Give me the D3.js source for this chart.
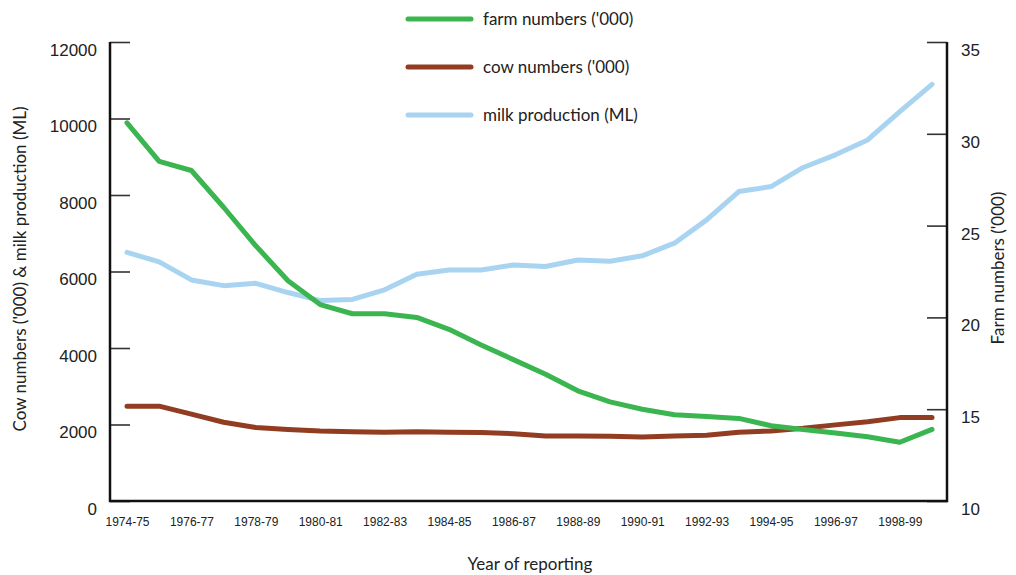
<!DOCTYPE html>
<html>
<head>
<meta charset="utf-8">
<script src="https://cdn.jsdelivr.net/npm/d3@7.9.0/dist/d3.min.js"></script>
<style>
  html, body { margin: 0; padding: 0; background: #fff; }
  svg { display: block; font-family: Lato, 'Open Sans', sans-serif; }
  .tick line { stroke: #333; stroke-width: 1.6; }
  .tick text { fill: #222; }
</style>
</head>
<body>
<div id="chart"></div>
<script>
const years = [
  '1974-75', '1975-76', '1976-77', '1977-78', '1978-79', '1979-80', '1980-81',
  '1981-82', '1982-83', '1983-84', '1984-85', '1985-86', '1986-87', '1987-88',
  '1988-89', '1989-90', '1990-91', '1991-92', '1992-93', '1993-94', '1994-95',
  '1995-96', '1996-97', '1997-98', '1998-99', '1999-00',
];

// farm numbers ('000), right axis
const farmNumbers = [
  30.6, 28.5, 28.0, 26.0, 23.9, 22.0, 20.7, 20.2, 20.2, 20.0, 19.35, 18.5, 17.7,
  16.9, 16.0, 15.4, 15.0, 14.7, 14.6, 14.5, 14.1, 13.9, 13.7, 13.5, 13.2, 13.9,
];

// cow numbers ('000), left axis
const cowNumbers = [
  2480, 2480, 2270, 2060, 1920, 1870, 1830, 1810, 1800, 1810, 1800, 1790, 1760,
  1700, 1700, 1690, 1670, 1700, 1720, 1800, 1830, 1900, 1990, 2070, 2180, 2180,
];

// milk production (ML), left axis
const milkProduction = [
  6500, 6250, 5780, 5630, 5690, 5450, 5240, 5270, 5520, 5930, 6040, 6040, 6170,
  6130, 6300, 6270, 6410, 6740, 7350, 8090, 8220, 8720, 9050, 9440, 10180, 10890,
];

const leftTicks = [0, 2000, 4000, 6000, 8000, 10000, 12000];
const rightTicks = [10, 15, 20, 25, 30, 35];
const xTickLabels = years.filter((d, i) => i % 2 === 0 && i < 25);

const seriesNames = ["farm numbers ('000)", "cow numbers ('000)", 'milk production (ML)'];
const seriesColors = ['#3bb54f', '#923d21', '#a8d4f1'];

function renderChart() {
  const width = 1016;
  const height = 575;
  const plot = { left: 110, right: 947, top: 42, bottom: 501 };

  const svg = d3
    .select('#chart')
    .append('svg')
    .attr('width', width)
    .attr('height', height);

  const xScale = d3.scalePoint().domain(years).range([127, 932]);
  const yLeft = d3.scaleLinear().domain([0, 12000]).range([plot.bottom, plot.top]);
  const yRight = d3.scaleLinear().domain([10, 35]).range([plot.bottom, plot.top]);

  // left axis
  const leftAxis = svg
    .append('g')
    .attr('transform', `translate(${plot.left},0)`)
    .call(
      d3
        .axisLeft(yLeft)
        .tickValues(leftTicks)
        .tickFormat(d3.format('d'))
        .tickSizeInner(-20)
        .tickSizeOuter(0)
        .tickPadding(13),
    );
  leftAxis.select('.domain').remove();
  leftAxis.selectAll('text').attr('y', 8).style('font-size', '17px');

  // right axis
  const rightAxis = svg
    .append('g')
    .attr('transform', `translate(${plot.right},0)`)
    .call(
      d3.axisRight(yRight).tickValues(rightTicks).tickSizeInner(-20).tickSizeOuter(0).tickPadding(14),
    );
  rightAxis.select('.domain').remove();
  rightAxis.selectAll('text').attr('y', 8).style('font-size', '17px');

  // x axis labels
  const xAxis = svg
    .append('g')
    .attr('transform', `translate(0,${plot.bottom})`)
    .call(d3.axisBottom(xScale).tickValues(xTickLabels).tickSize(0).tickPadding(16));
  xAxis.select('.domain').remove();
  xAxis.selectAll('text').style('font-size', '12px');

  // frame
  svg
    .append('path')
    .attr('d', `M${plot.left},${plot.top}V${plot.bottom}H${plot.right}V${plot.top}`)
    .attr('fill', 'none')
    .attr('stroke', '#111')
    .attr('stroke-width', 2.5);

  const lineLeft = d3
    .line()
    .x((d, i) => xScale(years[i]))
    .y((d) => yLeft(d));
  const lineRight = d3
    .line()
    .x((d, i) => xScale(years[i]))
    .y((d) => yRight(d));

  const series = [
    { values: milkProduction, line: lineLeft, color: seriesColors[2] },
    { values: cowNumbers, line: lineLeft, color: seriesColors[1] },
    { values: farmNumbers, line: lineRight, color: seriesColors[0] },
  ];

  svg
    .append('g')
    .selectAll('path')
    .data(series)
    .join('path')
    .attr('d', (d) => d.line(d.values))
    .attr('fill', 'none')
    .attr('stroke', (d) => d.color)
    .attr('stroke-width', 5)
    .attr('stroke-linejoin', 'round')
    .attr('stroke-linecap', 'round');

  // legend
  const legend = svg
    .append('g')
    .selectAll('g')
    .data(seriesNames)
    .join('g')
    .attr('transform', (d, i) => `translate(408,${19 + i * 48})`);

  legend
    .append('line')
    .attr('x1', 0)
    .attr('x2', 63)
    .attr('stroke', (d, i) => seriesColors[i])
    .attr('stroke-width', 5)
    .attr('stroke-linecap', 'round');

  legend
    .append('text')
    .attr('x', 75)
    .attr('dy', '0.35em')
    .style('font-size', '17px')
    .attr('fill', '#222')
    .text((d) => d);

  // axis titles
  svg
    .append('text')
    .attr('transform', 'translate(26,269) rotate(-90)')
    .attr('text-anchor', 'middle')
    .style('font-size', '17px')
    .attr('fill', '#222')
    .text("Cow numbers ('000) & milk production (ML)");

  svg
    .append('text')
    .attr('transform', 'translate(1004,268) rotate(-90)')
    .attr('text-anchor', 'middle')
    .style('font-size', '17px')
    .attr('fill', '#222')
    .text("Farm numbers ('000)");

  svg
    .append('text')
    .attr('x', 530)
    .attr('y', 570)
    .attr('text-anchor', 'middle')
    .style('font-size', '17px')
    .attr('fill', '#222')
    .text('Year of reporting');
}

renderChart();
</script>
</body>
</html>
